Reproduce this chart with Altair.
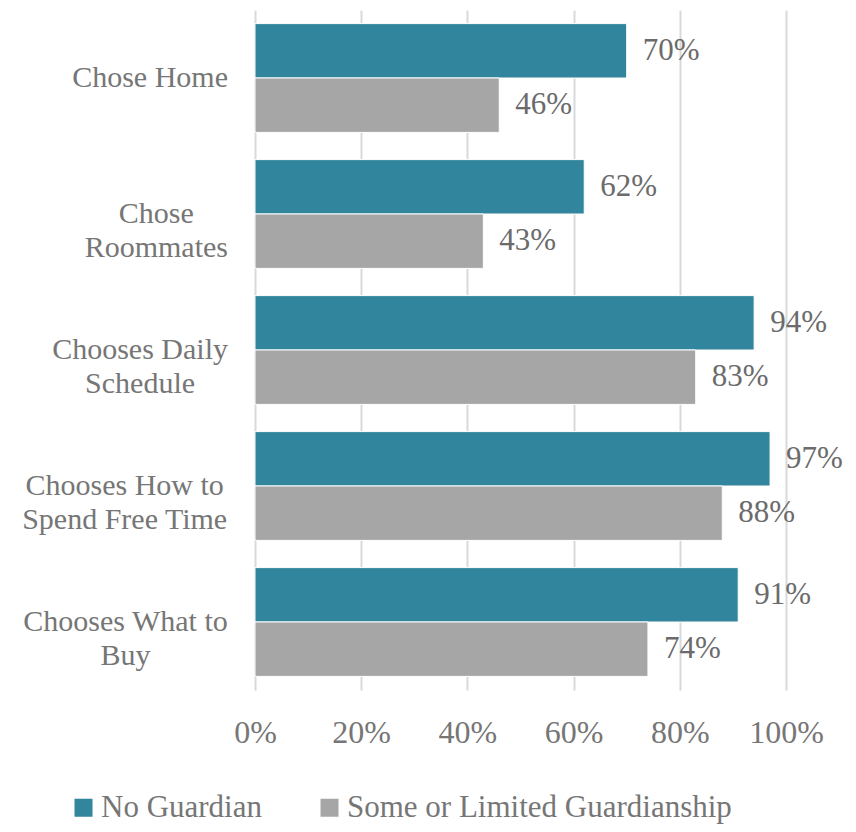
import altair as alt
import pandas as pd

categories = ["Chose Home", "Chose Roommates", "Chooses Daily Schedule",
              "Chooses How to Spend Free Time", "Chooses What to Buy"]
label_lines = [["Chose Home"], ["Chose", "Roommates"], ["Chooses Daily", "Schedule"],
               ["Chooses How to", "Spend Free Time"], ["Chooses What to", "Buy"]]
series = ["No Guardian", "Some or Limited Guardianship"]
no_guardian = [70, 62, 94, 97, 91]
some_guardianship = [46, 43, 83, 88, 74]
colors = ["#31859C", "#A6A6A6"]

FONT = "Liberation Serif"
LABEL_SIZE = 30
LABEL_GAP = 27

# Times / Liberation Serif advance widths (per 1000 em), used to centre
# the multi-line category labels on their widest line
W = {" ": 250, "B": 667, "C": 667, "D": 722, "F": 556, "H": 722, "R": 667, "S": 556,
     "T": 611, "W": 944, "a": 444, "b": 500, "c": 444, "d": 500, "e": 444, "h": 500,
     "i": 278, "l": 278, "m": 778, "n": 500, "o": 500, "p": 500, "r": 333, "s": 389,
     "t": 278, "u": 500, "w": 722, "y": 500}


def text_width(s):
    return sum(W.get(c, 500) for c in s) / 1000 * LABEL_SIZE


lab_rows = []
for c, lines in zip(categories, label_lines):
    mw = max(text_width(l) for l in lines)
    lab_rows.append({"category": c, "text": "\n".join(lines), "cx": -LABEL_GAP - mw / 2})
lab_df = pd.DataFrame(lab_rows)

rows = []
for i, c in enumerate(categories):
    rows.append({"category": c, "series": series[0], "value": no_guardian[i]})
    rows.append({"category": c, "series": series[1], "value": some_guardianship[i]})
df = pd.DataFrame(rows)

y_enc = alt.Y("category:N", sort=categories,
              scale=alt.Scale(paddingInner=0.2, paddingOuter=0.1),
              axis=alt.Axis(title=None, labels=False, ticks=False, domain=False, grid=False))
yoff = alt.YOffset("series:N", sort=series, scale=alt.Scale(paddingInner=0, paddingOuter=0))
x_enc = alt.X("value:Q", scale=alt.Scale(domain=[0, 100], nice=False),
              axis=alt.Axis(title=None, values=[0, 20, 40, 60, 80, 100],
                            labelExpr="datum.value + '%'", labelFont=FONT,
                            labelFontSize=32, labelColor="#767676", labelPadding=27,
                            labelFlush=False, labelOverlap=False,
                            ticks=False, domain=False, grid=True, gridColor="#d9d9d9",
                            gridWidth=2))

bars = alt.Chart(df).mark_bar(stroke="white", strokeWidth=1).encode(
    x=x_enc, y=y_enc, yOffset=yoff,
    color=alt.Color("series:N", sort=series,
                    scale=alt.Scale(domain=series, range=colors),
                    legend=alt.Legend(title=None, orient="none", legendX=-187, legendY=782,
                                      direction="horizontal", columns=2,
                                      symbolType="square", symbolSize=324,
                                      symbolStrokeWidth=0, labelFont=FONT,
                                      labelFontSize=31, labelColor="#767676",
                                      labelOffset=2, columnPadding=52, labelLimit=600)),
)

text = alt.Chart(df).transform_calculate(txt="datum.value + '%'").mark_text(
    align="left", baseline="middle", dx=16, font=FONT, fontSize=31, color="#6b6b6b"
).encode(x="value:Q", y=alt.Y("category:N", sort=categories),
         yOffset=alt.YOffset("series:N", sort=series), text="txt:N")

cat_labels = alt.Chart(lab_df).mark_text(
    align="center", baseline="middle", lineBreak="\n", lineHeight=34,
    font=FONT, fontSize=LABEL_SIZE, color="#767676"
).encode(x=alt.X("cx:Q", scale=None), y=alt.Y("category:N", sort=categories),
         text="text:N")

chart = alt.layer(bars, text, cat_labels).properties(
    width=531, height=680,
    autosize=alt.AutoSizeParams(type="none"),
    padding={"left": 247, "top": 2, "right": 62, "bottom": 134},
).configure_view(stroke=None)

chart.save("out.html", embed_options={"renderer": "svg", "actions": False})
